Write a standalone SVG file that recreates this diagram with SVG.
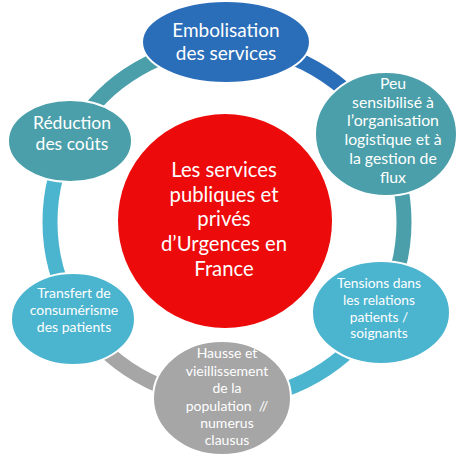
<svg xmlns="http://www.w3.org/2000/svg" width="474" height="456" viewBox="0 0 474 456">
<style>
.ring{fill:none;stroke-width:15}
.node{stroke:#fff;stroke-width:2}
text{font-family:Lato,"Open Sans",sans-serif;fill:#fff;text-anchor:middle}
.e{font-size:19px}
.l{font-size:17.5px}
.m{font-size:15.8px}
.s{font-size:14px}
.t{font-size:13.8px}
.c{font-size:20.3px}
</style>
<rect width="474" height="456" fill="#fff"/>
<g id="connectors">
<path class="ring" stroke="#2A6DB8" d="M227 45 A177 177 0 0 1 380.3 133.5"/>
<path class="ring" stroke="#4A9FAA" d="M380.3 133.5 A177 177 0 0 1 380.3 310.5"/>
<path class="ring" stroke="#4BB4CF" d="M380.3 310.5 A177 177 0 0 1 227 399"/>
<path class="ring" stroke="#A6A6A6" d="M227 399 A177 177 0 0 1 73.7 310.5"/>
<path class="ring" stroke="#4BB4CF" d="M73.7 310.5 A177 177 0 0 1 73.7 133.5"/>
<path class="ring" stroke="#4A9FAA" d="M73.7 133.5 A177 177 0 0 1 227 45"/>
</g>
<g id="center">
<circle class="node" cx="225" cy="221" r="108" fill="#EC0A0A"/>
<text class="c" x="224" y="177">Les services</text>
<text class="c" x="224" y="201.5">publiques et</text>
<text class="c" x="224" y="226">privés</text>
<text class="c" x="224" y="251">d’Urgences en</text>
<text class="c" x="224" y="276">France</text>
</g>
<g id="embolisation">
<ellipse class="node" cx="226" cy="42" rx="84" ry="41" fill="#2A6DB8"/>
<text class="e" x="226" y="37">Embolisation</text>
<text class="e" x="226" y="60">des services</text>
</g>
<g id="peu">
<ellipse class="node" cx="386" cy="134" rx="71" ry="62" fill="#4A9FAA"/>
<text class="m" x="393" y="89">Peu</text>
<text class="m" x="393" y="107.5">sensibilisé à</text>
<text class="m" x="393" y="126">l’organisation</text>
<text class="m" x="393" y="145">logistique et à</text>
<text class="m" x="393" y="164">la gestion de</text>
<text class="m" x="393" y="183">flux</text>
</g>
<g id="tensions">
<ellipse class="node" cx="381" cy="312.5" rx="69" ry="51.5" fill="#4BB4CF"/>
<text class="t" x="379" y="288">Tensions dans</text>
<text class="t" x="379" y="305">les relations</text>
<text class="t" x="379" y="321.5">patients /</text>
<text class="t" x="379" y="338">soignants</text>
</g>
<g id="hausse">
<ellipse class="node" cx="222" cy="398" rx="69" ry="57" fill="#A6A6A6"/>
<text class="s" x="227" y="358">Hausse et</text>
<text class="s" x="227" y="375.5">vieillissement</text>
<text class="s" x="227" y="393">de la</text>
<text class="s" x="227" y="410.5" xml:space="preserve">population  //</text>
<text class="s" x="227" y="428">numerus</text>
<text class="s" x="227" y="445">clausus</text>
</g>
<g id="transfert">
<ellipse class="node" cx="73" cy="319" rx="62" ry="46" fill="#4BB4CF"/>
<text class="s" x="74" y="298">Transfert de</text>
<text class="s" x="74" y="315">consumérisme</text>
<text class="s" x="74" y="332">des patients</text>
</g>
<g id="reduction">
<ellipse class="node" cx="70" cy="141" rx="62" ry="41" fill="#4A9FAA"/>
<text class="l" x="72" y="129">Réduction</text>
<text class="l" x="72" y="150">des coûts</text>
</g>
</svg>
